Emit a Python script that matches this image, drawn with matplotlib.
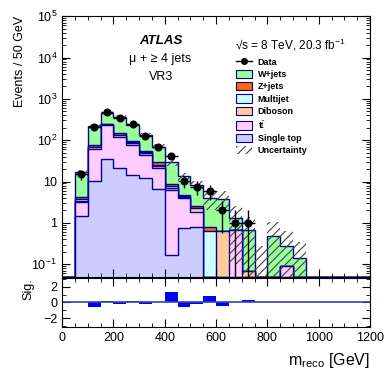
import matplotlib
matplotlib.use('Agg')

import matplotlib.pyplot as plt
import numpy as np
from matplotlib.lines import Line2D
from matplotlib.patches import Patch

plt.rcParams['font.family'] = ['Liberation Sans', 'DejaVu Sans']
plt.rcParams['mathtext.fontset'] = 'custom'
plt.rcParams['mathtext.rm'] = 'Liberation Sans'
plt.rcParams['mathtext.it'] = 'Liberation Sans:italic'
plt.rcParams['mathtext.bf'] = 'Liberation Sans:bold'
plt.rcParams['hatch.linewidth'] = 0.8

# m_reco bins, 50 GeV wide, 0 - 1200 GeV
edges = np.arange(0, 1250, 50)

single_top = [0, 1.45, 10.6, 36, 21.5, 14.8, 12.3, 6.6, 0.17, 0.76, 0.78, 0, 0, 0, 0, 0, 0, 0, 0, 0, 0, 0, 0, 0]
ttbar = [0, 1.75, 52.4, 194, 98.5, 63.2, 32.7, 14.9, 6.2, 3.2, 1.1, 0, 0, 0.69, 0, 0, 0, 0.092, 0, 0, 0, 0, 0, 0]
diboson = [0, 0.1, 5, 8, 12, 8, 4, 2.5, 0.8, 0.3, 0.4, 0, 0.63, 0, 0.07, 0, 0, 0, 0, 0, 0, 0, 0, 0]
multijet = [0, 0.4, 2, 3, 5, 3, 1.5, 1, 0.5, 0.1, 0.05, 0.63, 0, 0, 0, 0, 0, 0, 0, 0, 0, 0, 0, 0]
zjets = [0, 0.6, 6, 10, 16, 9, 5, 4, 1.3, 0.4, 0.3, 0.17, 0, 0, 0, 0, 0, 0, 0, 0, 0, 0, 0, 0]
wjets = [0, 12.5, 151, 208, 212, 142, 76.5, 41, 20, 8.6, 5.75, 3.2, 3.17, 0.61, 0.62, 0, 0.475, 0.178, 0.14, 0, 0, 0, 0, 0]
uncert = [0, 2.5, 22, 45, 35, 25, 16, 12, 5.5, 2.8, 1.8, 2.0, 2.0, 1.2, 0.7, 0.28, 0.58, 0.36, 0.2, 0, 0, 0, 0, 0]
data = [0, 15, 210, 470, 350, 250, 125, 68, 42, 10.2, 7.5, 6, 2, 1, 1, 0, 0, 0, 0, 0, 0, 0, 0, 0]
signif = [0, 0, -0.6, 0.13, -0.2, 0.17, -0.2, 0, 1.3, -0.6, -0.17, 0.86, -0.5, 0, 0.3, 0, 0, 0, 0, 0, 0, 0, 0, 0]

labels = ['Single top', r't$\bar{\mathrm{t}}$', 'Diboson', 'Multijet', 'Z+jets', 'W+jets']
colors = ['#ccccff', '#ffccff', '#ffcc99', '#ccffff', '#ff6600', '#99ff99']
outline = '#000099'

ymin, ymax = 0.05, 1e5
centers = 0.5 * (edges[:-1] + edges[1:])

fig = plt.figure(figsize=(3.9, 3.76), dpi=100)
ax = fig.add_axes([0.159, 0.264, 0.790, 0.693])
rax = fig.add_axes([0.159, 0.131, 0.790, 0.129], sharex=ax)

# stacked backgrounds, drawn top layer first like a ROOT THStack
comps = np.array([single_top, ttbar, diboson, multijet, zjets, wjets])
cum = np.cumsum(comps, axis=0)
for i in range(len(comps) - 1, -1, -1):
    top = np.maximum(cum[i], ymin)
    ax.stairs(top, edges, baseline=ymin, fill=True, facecolor=colors[i], edgecolor='none')
    ax.stairs(top, edges, baseline=ymin, color=outline, lw=1.0)

total = cum[-1]
unc = np.array(uncert)
has = unc > 0
lo = np.maximum(total - unc, ymin)
hi = total + unc
ax.bar(centers[has], (hi - lo)[has], bottom=lo[has], width=50, fill=False,
       hatch='////', edgecolor='#444444', lw=0)

d = np.array(data, dtype=float)
m = d > 0
ax.errorbar(centers[m], d[m], yerr=np.sqrt(d[m]), xerr=25, fmt='o', color='black',
            ms=4.8, lw=1.0, capsize=0)

ax.set_yscale('log')
ax.set_ylim(ymin, ymax)
ax.set_xlim(0, 1200)
ax.set_ylabel('Events / 50 GeV', fontsize=9, loc='top', labelpad=4)
ax.tick_params(labelbottom=False)

for a in (ax, rax):
    a.tick_params(which='both', direction='in', top=True, right=True, labelsize=9)
    a.tick_params(which='major', length=6)
    a.tick_params(which='minor', length=3)
ax.xaxis.set_major_locator(plt.MultipleLocator(200))
ax.xaxis.set_minor_locator(plt.MultipleLocator(50))
ax.yaxis.set_minor_locator(matplotlib.ticker.LogLocator(base=10, subs=np.arange(2, 10), numticks=20))
ax.yaxis.set_minor_formatter(matplotlib.ticker.NullFormatter())
ax.set_yticks([0.1, 1, 10, 1e2, 1e3, 1e4, 1e5])
ax.set_yticklabels([r'$10^{-1}$', '1', '10', r'$10^{2}$', r'$10^{3}$', r'$10^{4}$', r'$10^{5}$'])

ax.text(0.32, 0.905, 'ATLAS', transform=ax.transAxes, ha='center', va='center',
        fontsize=9.5, fontweight='bold', fontstyle='italic')
ax.text(0.32, 0.835, 'μ + ≥ 4 jets', transform=ax.transAxes, ha='center', va='center', fontsize=9)
ax.text(0.32, 0.765, 'VR3', transform=ax.transAxes, ha='center', va='center', fontsize=9)
ax.text(0.74, 0.888, '√s = 8 TeV, 20.3 fb$^{-1}$', transform=ax.transAxes,
        ha='center', va='center', fontsize=8.5)

handles = [Line2D([], [], color='black', marker='o', ms=4, lw=1)]
for i in range(len(comps) - 1, -1, -1):
    handles.append(Patch(facecolor=colors[i], edgecolor=outline, lw=0.8))
handles.append(Patch(facecolor='white', edgecolor='#444444', hatch='////', lw=0))
leg_labels = ['Data'] + labels[::-1] + ['Uncertainty']
ax.legend(handles, leg_labels, loc='upper left', bbox_to_anchor=(0.565, 0.84),
          frameon=False, prop={'size': 6.5, 'weight': 'bold'}, handlelength=1.8,
          handleheight=1.0, labelspacing=0.34, handletextpad=0.6, borderpad=0, borderaxespad=0)

# significance panel
rax.bar(centers, signif, width=50, color='#0000ff', lw=0)
rax.axhline(0, color='#3344aa', lw=1.2)
rax.set_ylim(-3.1, 3.1)
rax.yaxis.set_major_locator(plt.MultipleLocator(2))
rax.yaxis.set_minor_locator(plt.MultipleLocator(1))
rax.set_ylabel('Sig.', fontsize=9, loc='top', labelpad=6)
rax.set_xlabel(r'm$_{\mathrm{reco}}$ [GeV]', fontsize=11.5, loc='right', labelpad=5)

fig.savefig('out.png', dpi=100)
